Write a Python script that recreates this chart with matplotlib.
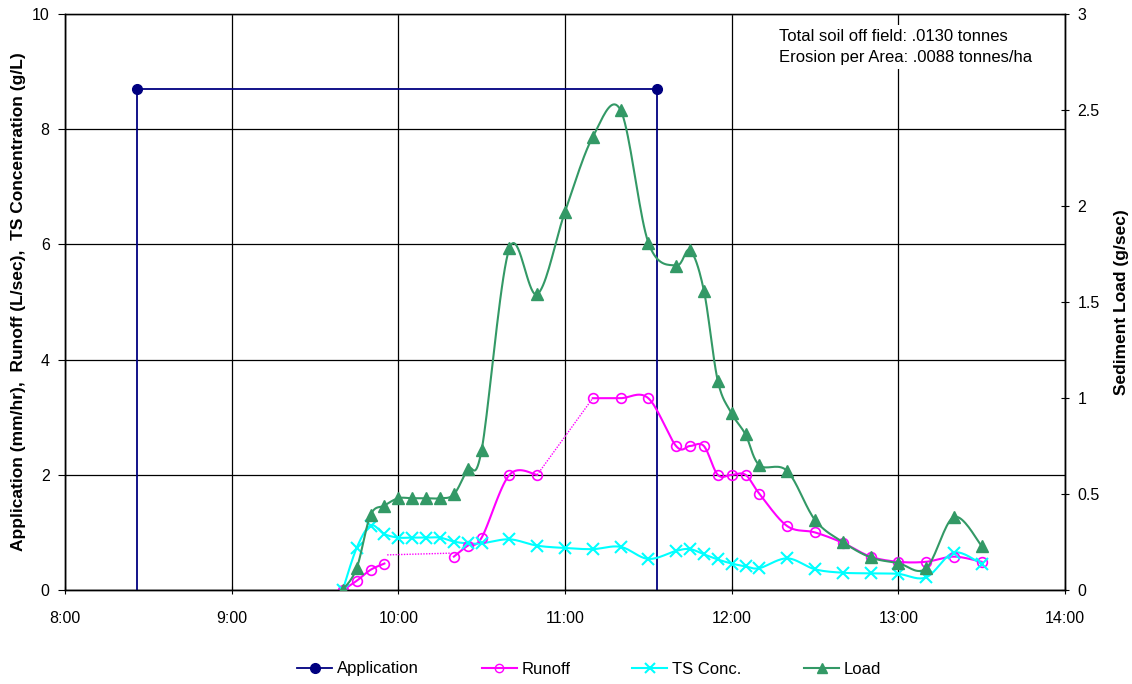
import numpy as np
import matplotlib
matplotlib.use('Agg')
import matplotlib.pyplot as plt
from matplotlib.lines import Line2D

plt.rcParams['font.family'] = ['Liberation Sans', 'DejaVu Sans']

# Application (mm/hr) - start/end of irrigation
app_times = ['8:26', '8:26', '11:33', '11:33']
app_vals = [0, 8.7, 8.7, 0]

# Runoff (L/sec), split into measured segments
runoff_seg1_times = ['9:40', '9:45', '9:50', '9:55']
runoff_seg1 = [0.0, 0.16, 0.35, 0.46]
runoff_seg2_times = ['10:20', '10:25', '10:30', '10:40', '10:50']
runoff_seg2 = [0.58, 0.77, 0.91, 2.0, 2.0]
runoff_seg3_times = ['11:10', '11:20', '11:30', '11:40', '11:45', '11:50', '11:55',
                     '12:00', '12:05', '12:10', '12:20', '12:30', '12:40', '12:50',
                     '13:00', '13:10', '13:20', '13:30']
runoff_seg3 = [3.33, 3.33, 3.33, 2.5, 2.5, 2.5, 2.0,
               2.0, 2.0, 1.67, 1.11, 1.0, 0.82, 0.58,
               0.49, 0.49, 0.58, 0.49]
# dotted gap estimates
gap1_times = ['9:56', '10:19']
gap1_vals = [0.61, 0.64]
gap2_times = ['10:50', '11:10']
gap2_vals = [2.0, 3.33]

# TS Concentration (g/L)
ts_times = ['9:40', '9:45', '9:50', '9:55', '10:00', '10:05', '10:10', '10:15',
            '10:20', '10:25', '10:30', '10:40', '10:50', '11:00', '11:10', '11:20',
            '11:30', '11:40', '11:45', '11:50', '11:55', '12:00', '12:05', '12:10',
            '12:20', '12:30', '12:40', '12:50', '13:00', '13:10', '13:20', '13:30']
ts_vals = [0.0, 0.73, 1.12, 0.97, 0.91, 0.91, 0.91, 0.91,
           0.84, 0.81, 0.81, 0.88, 0.77, 0.73, 0.71, 0.75,
           0.54, 0.68, 0.71, 0.62, 0.53, 0.46, 0.41, 0.38,
           0.55, 0.36, 0.30, 0.29, 0.28, 0.22, 0.65, 0.45]

# Sediment load (g/sec), right axis
load_times = ts_times
load_vals = [0.0, 0.113, 0.39, 0.44, 0.478, 0.478, 0.478, 0.478,
             0.498, 0.63, 0.73, 1.78, 1.54, 1.97, 2.36, 2.50,
             1.81, 1.69, 1.77, 1.56, 1.09, 0.92, 0.81, 0.65,
             0.62, 0.365, 0.25, 0.17, 0.14, 0.113, 0.38, 0.23]

hour_ticks = [8, 9, 10, 11, 12, 13, 14]
hour_labels = ['8:00', '9:00', '10:00', '11:00', '12:00', '13:00', '14:00']
legend_labels = ['Application', 'Runoff', 'TS Conc.', 'Load']


def to_hours(times):
    out = []
    for t in times:
        h, m = t.split(':')
        out.append(int(h) + int(m) / 60.0)
    return np.array(out)


def smooth(x, y, n=20):
    # Excel-style smoothed line: cubic Bezier with Catmull-Rom control points
    x = np.asarray(x, float)
    y = np.asarray(y, float)
    if len(x) < 3:
        return x, y
    px = np.concatenate([[x[0]], x, [x[-1]]])
    py = np.concatenate([[y[0]], y, [y[-1]]])
    xs, ys = [], []
    t = np.linspace(0, 1, n)
    for i in range(1, len(px) - 2):
        p0 = np.array([px[i], py[i]])
        p3 = np.array([px[i + 1], py[i + 1]])
        c1 = p0 + (np.array([px[i + 1], py[i + 1]]) - np.array([px[i - 1], py[i - 1]])) / 6
        c2 = p3 - (np.array([px[i + 2], py[i + 2]]) - np.array([px[i], py[i]])) / 6
        b = ((1 - t) ** 3)[:, None] * p0 + (3 * (1 - t) ** 2 * t)[:, None] * c1 \
            + (3 * (1 - t) * t ** 2)[:, None] * c2 + (t ** 3)[:, None] * p3
        xs.append(b[:, 0])
        ys.append(b[:, 1])
    return np.concatenate(xs), np.concatenate(ys)


navy = '#000080'
magenta = '#ff00ff'
cyan = '#00ffff'
green = '#339966'

fig = plt.figure(figsize=(11.32, 6.84), dpi=100)
ax = fig.add_axes([0.0574, 0.1374, 0.8834, 0.8421])
ax2 = ax.twinx()

# application
ax.plot(to_hours(app_times), app_vals, color=navy, lw=1.3, marker='o', ms=7,
        markevery=[1, 2], zorder=3)

# runoff
for tt, vv in [(runoff_seg1_times, runoff_seg1), (runoff_seg2_times, runoff_seg2),
               (runoff_seg3_times, runoff_seg3)]:
    xh = to_hours(tt)
    sx, sy = smooth(xh, vv)
    ax.plot(sx, sy, color=magenta, lw=1.5, zorder=3)
    ax.plot(xh, vv, ls='none', marker='o', ms=7, mfc='none', mec=magenta, mew=1.2, zorder=4)
for tt, vv in [(gap1_times, gap1_vals), (gap2_times, gap2_vals)]:
    ax.plot(to_hours(tt), vv, color=magenta, lw=1, ls=(0, (1, 1)), zorder=3)

# TS conc
xh = to_hours(ts_times)
sx, sy = smooth(xh, ts_vals)
ax.plot(sx, sy, color=cyan, lw=1.5, zorder=3)
ax.plot(xh, ts_vals, ls='none', marker='x', ms=8, mec=cyan, mew=1.5, zorder=4)

# load on right axis
xh = to_hours(load_times)
sx, sy = smooth(xh, load_vals)
ax2.plot(sx, sy, color=green, lw=1.5, zorder=3)
ax2.plot(xh, load_vals, ls='none', marker='^', ms=8, color=green, zorder=4)

ax.set_xlim(8, 14)
ax.set_ylim(0, 10)
ax2.set_ylim(0, 3)
ax.set_xticks(hour_ticks)
ax.set_xticklabels(hour_labels)
ax.set_yticks([0, 2, 4, 6, 8, 10])
ax2.set_yticks([0, 0.5, 1, 1.5, 2, 2.5, 3])
ax2.set_yticklabels(['0', '0.5', '1', '1.5', '2', '2.5', '3'])

ax.grid(True, color='black', lw=0.9)
ax.set_axisbelow(True)
for a in (ax, ax2):
    for s in a.spines.values():
        s.set_color('black')
        s.set_linewidth(1)
ax.spines['top'].set_color('#808080')
ax.tick_params(axis='both', direction='out', length=5, labelsize=11.5, pad=6)
ax.tick_params(axis='x', direction='inout', length=6, pad=12)
ax2.tick_params(axis='y', direction='inout', length=6, labelsize=11.5, pad=6)

ax.set_ylabel('Application (mm/hr),  Runoff (L/sec),  TS Concentration (g/L)',
              fontsize=12.5, fontweight='bold', labelpad=4)
ax2.set_ylabel('Sediment Load (g/sec)', fontsize=12.5, fontweight='bold', labelpad=10)

fig.text(0.688, 0.958, 'Total soil off field: .0130 tonnes\nErosion per Area: .0088 tonnes/ha',
         fontsize=12, va='top', ha='left', linespacing=1.55,
         bbox=dict(facecolor='white', edgecolor='none', pad=3), zorder=10)

handles = [
    Line2D([], [], color=navy, marker='o', ms=7, lw=1.3),
    Line2D([], [], color=magenta, marker='o', ms=6, mfc='none', lw=1.5),
    Line2D([], [], color=cyan, marker='x', ms=7, mew=1.5, lw=1.5),
    Line2D([], [], color=green, marker='^', ms=7, lw=1.5),
]
legend_x = [297, 482, 632, 804]
for h, lab, lx in zip(handles, legend_labels, legend_x):
    lg = fig.legend([h], [lab], loc='center left', bbox_to_anchor=(lx / 1132, 1 - 669 / 684),
                    frameon=False, fontsize=12, borderpad=0, borderaxespad=0,
                    handlelength=2.1, handletextpad=0.3)

fig.savefig('out.png', dpi=100)
